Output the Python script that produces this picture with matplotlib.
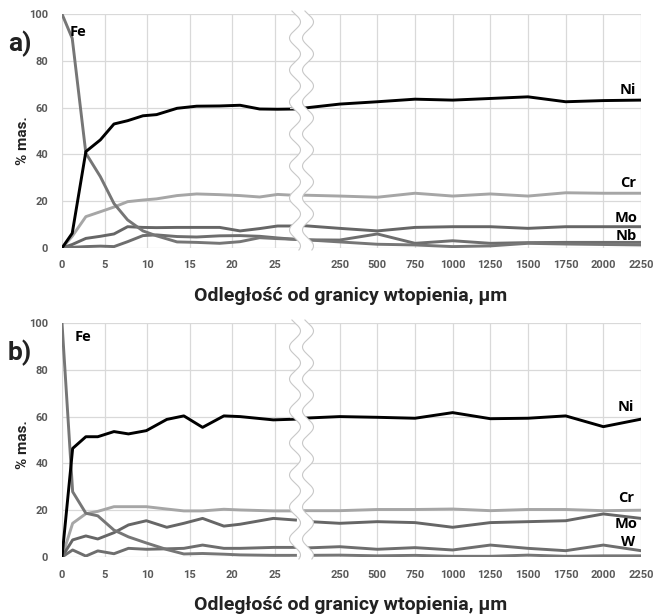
import matplotlib
matplotlib.use("Agg")
import matplotlib.pyplot as plt
import numpy as np
from matplotlib.lines import Line2D
from matplotlib.patches import Polygon

W, H = 656, 616

# --- panel a) --------------------------------------------------------------
# near the fusion boundary (um) and the far part after the axis break
xa_near = [0, 1.2, 2.8, 4.5, 6.1, 7.7, 9.5, 11.1, 13.5, 15.8, 18.5, 20.9, 23.2, 25.3, 27.4]
a_ni_near = [0, 6.3, 41.2, 46.2, 53.0, 54.4, 56.5, 57.0, 59.7, 60.6, 60.7, 61.0, 59.4, 59.3, 59.4]
a_fe_near = [100, 89.6, 40.5, 30.5, 19.0, 12.0, 7.3, 5.2, 2.6, 2.4, 2.0, 2.7, 4.4, 4.0, 3.7]
a_cr_near = [0, 5.0, 13.4, 15.5, 17.5, 19.8, 20.5, 21.0, 22.4, 23.1, 22.8, 22.4, 21.8, 22.9, 22.5]
a_mo_near = [0, 1.5, 4.1, 5.0, 6.0, 9.1, 8.8, 8.7, 8.8, 8.8, 8.8, 7.3, 8.3, 9.4, 9.4]
a_nb_near = [0, 0.3, 0.6, 0.8, 0.6, 2.7, 5.3, 5.6, 4.9, 4.7, 5.2, 5.3, 5.0, 4.3, 3.7]

x_far = [0, 250, 500, 750, 1000, 1250, 1500, 1750, 2000, 2250]
a_ni_far = [59.7, 61.5, 62.5, 63.6, 63.2, 63.9, 64.6, 62.5, 63.0, 63.2]
a_cr_far = [22.6, 22.2, 21.7, 23.4, 22.2, 23.1, 22.2, 23.6, 23.4, 23.4]
a_mo_far = [9.6, 8.4, 7.3, 8.8, 9.1, 9.1, 8.4, 9.1, 9.1, 9.1]
a_nb_far = [3.5, 3.4, 6.0, 2.0, 3.1, 2.0, 2.3, 2.4, 2.4, 2.4]
a_fe_far = [3.6, 2.6, 1.6, 1.3, 0.6, 0.9, 2.0, 1.7, 1.5, 1.3]

# --- panel b) --------------------------------------------------------------
xb_near = [0, 1.25, 2.8, 4.2, 6.1, 7.8, 9.9, 12.3, 14.3, 16.5, 19.0, 20.9, 24.8, 27.4]
b_ni_near = [0, 46.4, 51.4, 51.4, 53.6, 52.6, 54.0, 58.8, 60.3, 55.4, 60.3, 60.0, 58.6, 58.9]
b_fe_near = [100, 27.9, 18.7, 17.6, 11.5, 8.6, 6.0, 3.2, 1.3, 1.5, 1.2, 0.9, 0.7, 0.7]
b_cr_near = [0, 14.4, 18.5, 19.5, 21.5, 21.5, 21.5, 20.5, 19.7, 19.7, 20.4, 20.1, 19.7, 19.7]
b_mo_near = [0, 7.3, 9.0, 7.7, 10.4, 13.7, 15.5, 12.7, 14.4, 16.5, 13.2, 14.0, 16.5, 15.8]
b_w_near = [0, 3.0, 0.4, 2.6, 1.4, 3.7, 3.3, 3.5, 3.7, 5.1, 3.7, 3.7, 4.1, 4.1]

b_ni_far = [59.3, 60.0, 59.7, 59.3, 61.7, 59.1, 59.3, 60.3, 55.7, 58.9]
b_cr_far = [19.8, 19.8, 20.3, 20.3, 20.5, 19.8, 20.3, 20.3, 19.8, 20.0]
b_mo_far = [15.3, 14.4, 15.1, 14.7, 12.7, 14.7, 15.1, 15.5, 18.4, 16.5]
b_w_far = [3.8, 4.4, 3.3, 4.0, 3.0, 5.1, 3.7, 2.7, 5.1, 2.7]
b_fe_far = [0.7, 0.8, 0.5, 0.7, 0.3, 0.3, 0.8, 0.3, 0.5, 0.5]

near_ticks = [0, 5, 10, 15, 20, 25]
far_ticks = [250, 500, 750, 1000, 1250, 1500, 1750, 2000, 2250]
y_ticks = [0, 20, 40, 60, 80, 100]

COLORS = {"Ni": "#000000", "Cr": "#a6a6a6", "Fe": "#767676",
          "Mo": "#666666", "Nb": "#6e6e6e", "W": "#6e6e6e"}
TICK_FONT = ["Roboto", "DejaVu Sans"]
TITLE_FONT = ["Roboto", "DejaVu Sans"]
NAME_FONT = ["Open Sans", "DejaVu Sans"]


def fx(px):
    return px / W


def fy(py):
    return 1 - py / H


def style_axis(ax, xticks, show_y):
    for s in ax.spines.values():
        s.set_visible(False)
    ax.set_facecolor("none")
    ax.set_ylim(0, 100)
    ax.set_yticks(y_ticks)
    ax.set_xticks(xticks)
    ax.grid(True, color="#d9d9d9", lw=0.9)
    ax.set_axisbelow(True)
    ax.tick_params(length=0, labelsize=8, labelcolor="#595959", pad=10)
    ax.tick_params(axis="x", pad=9)
    if not show_y:
        ax.tick_params(axis="y", labelleft=False)
    for lab in ax.get_xticklabels() + ax.get_yticklabels():
        lab.set_family(TICK_FONT)
        lab.set_fontweight("bold")


def draw_wave(fig, top, bottom):
    ys = np.linspace(top - 3, bottom + 2, 400)
    xl = 295 + 5.5 * np.sin(2 * np.pi * (ys - top) / 32.0)
    xr = xl + 13
    verts = [(fx(x), fy(y)) for x, y in zip(xl, ys)]
    verts += [(fx(x), fy(y)) for x, y in zip(xr[::-1], ys[::-1])]
    fig.add_artist(Polygon(verts, closed=True, facecolor="white", edgecolor="none",
                           transform=fig.transFigure, zorder=5))
    for xs in (xl, xr):
        fig.add_artist(Line2D(fx(xs), fy(ys), color="#c8c8c8", lw=0.8,
                              transform=fig.transFigure, zorder=6))


def draw_panel(fig, top, bottom, xn, near, far, tag, labels, ylab_y, xlab_y):
    h = (bottom - top) / H
    ax_n = fig.add_axes([fx(62), fy(bottom), (302 - 62) / W, h])
    ax_f = fig.add_axes([fx(290), fy(bottom), (641 - 290) / W, h])
    ax_n.set_xlim(0, 240 / 8.52)
    ax_f.set_xlim(-12 / 339 * 2250, 2250)
    for name, vals in near.items():
        ax_n.plot(xn, vals, color=COLORS[name], lw=2.1, solid_joinstyle="round")
    for name, vals in far.items():
        ax_f.plot(x_far, vals, color=COLORS[name], lw=2.1, solid_joinstyle="round")
    style_axis(ax_n, near_ticks, True)
    style_axis(ax_f, far_ticks, False)
    draw_wave(fig, top, bottom)

    for name, (px, py, ha) in labels.items():
        fig.text(fx(px), fy(py), name, ha=ha, va="center", fontsize=10.5,
                 fontweight="bold", family=NAME_FONT, zorder=7)
    fig.text(fx(20), fy(top + 30), tag, ha="center", va="center", fontsize=19,
             fontweight="bold", family=TITLE_FONT, color="#222222")
    fig.text(fx(23), fy(ylab_y), "% mas.", rotation=90, ha="center", va="center",
             fontsize=11, fontweight="bold", family=TITLE_FONT, color="#222222")
    fig.text(fx(351), fy(xlab_y), "Odległość od granicy wtopienia, μm", ha="center",
             va="center", fontsize=14, fontweight="bold", family=TITLE_FONT,
             color="#222222")


fig = plt.figure(figsize=(W / 100, H / 100), dpi=100)

draw_panel(
    fig, 14, 248, xa_near,
    {"Cr": a_cr_near, "Mo": a_mo_near, "Nb": a_nb_near, "Fe": a_fe_near, "Ni": a_ni_near},
    {"Cr": a_cr_far, "Mo": a_mo_far, "Nb": a_nb_far, "Fe": a_fe_far, "Ni": a_ni_far},
    "a)",
    {"Fe": (70, 32, "left"), "Ni": (636, 90, "right"), "Cr": (636, 183, "right"),
     "Mo": (637, 218, "right"), "Nb": (637, 236, "right")},
    141, 296,
)
draw_panel(
    fig, 323, 557, xb_near,
    {"Cr": b_cr_near, "Mo": b_mo_near, "W": b_w_near, "Fe": b_fe_near, "Ni": b_ni_near},
    {"Cr": b_cr_far, "Mo": b_mo_far, "W": b_w_far, "Fe": b_fe_far, "Ni": b_ni_far},
    "b)",
    {"Fe": (75, 337, "left"), "Ni": (634, 407, "right"), "Cr": (634, 498, "right"),
     "Mo": (637, 524, "right"), "W": (635, 542, "right")},
    445, 605,
)

fig.savefig("out.png", dpi=100)
